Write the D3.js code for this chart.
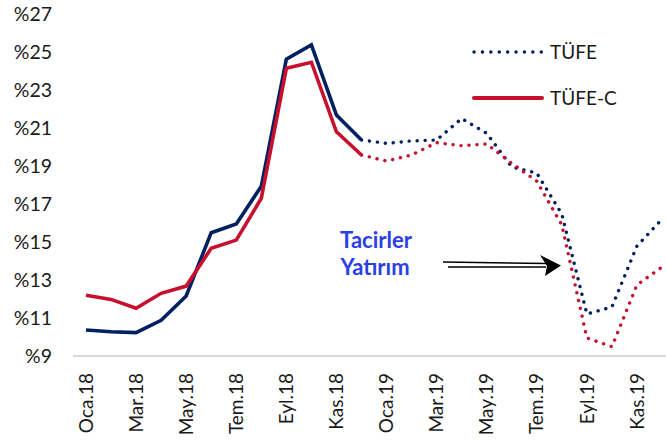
<!DOCTYPE html>
<html><head><meta charset="utf-8">
<script src="https://cdn.jsdelivr.net/npm/d3@7"></script>
<style>body{margin:0;background:#fff}svg{display:block}text{font-family:Lato,"Open Sans",sans-serif;fill:#1a1a1a}</style>
</head><body><svg id="c" width="666" height="444"></svg>
<script>
const months = ["Oca.18","Şub.18","Mar.18","Nis.18","May.18","Haz.18","Tem.18","Ağu.18","Eyl.18","Eki.18","Kas.18","Ara.18","Oca.19","Şub.19","Mar.19","Nis.19","May.19","Haz.19","Tem.19","Ağu.19","Eyl.19","Eki.19","Kas.19","Ara.19"];
const tufe  = [10.37,10.28,10.23,10.88,12.16,15.49,15.95,17.93,24.62,25.37,21.68,20.37,20.19,20.32,20.37,21.5,20.72,18.95,18.63,16.47,11.21,11.58,14.79,16.2];
const tufeC = [12.2,11.98,11.51,12.3,12.68,14.67,15.1,17.3,24.14,24.46,20.8,19.58,19.26,19.58,20.23,20.07,20.16,19.14,18.2,15.9,9.95,9.49,12.74,13.68];
const yTicks = [9,11,13,15,17,19,21,23,25,27];
const lastActual = 11; // Ara.18
const seriesNames = ["TÜFE","TÜFE-C"];
const colors = ["#002060","#c8102e"];

const svg = d3.select("#c");
const x = d3.scalePoint().domain(months).range([86,662]);
const y = d3.scaleLinear().domain([9,27]).range([356,14]);

// y labels
svg.append("g").selectAll("text").data(yTicks).join("text")
  .attr("x",52).attr("y",d=>y(d)).attr("dy","0.35em").attr("text-anchor","end")
  .attr("font-size",19.5).text(d=>"%"+d);

// x axis line
svg.append("line").attr("x1",73).attr("x2",666).attr("y1",y(9)).attr("y2",y(9))
  .attr("stroke","#d9d9d9").attr("stroke-width",2);

// x labels
svg.append("g").selectAll("text").data(months.filter((m,i)=>i%2===0)).join("text")
  .attr("transform",d=>`translate(${x(d)},373) rotate(-90)`)
  .attr("dy","0.35em").attr("text-anchor","end").attr("font-size",19).text(d=>d);

const line = d3.line().x(d=>x(d[0])).y(d=>y(d[1]));
[tufe,tufeC].forEach((vals,k)=>{
  const pts = months.map((m,i)=>[m,vals[i]]);
  svg.append("path").attr("d",line(pts.slice(0,lastActual+1)))
    .attr("fill","none").attr("stroke",colors[k]).attr("stroke-width",3.6).attr("stroke-linejoin","miter");
  svg.append("path").attr("d",line(pts.slice(lastActual)))
    .attr("fill","none").attr("stroke",colors[k]).attr("stroke-width",3.4)
    .attr("stroke-linecap","round").attr("stroke-dasharray","0.1,7.9");
});

// legend
const lg = svg.append("g");
lg.append("line").attr("x1",474).attr("x2",542).attr("y1",52).attr("y2",52)
  .attr("stroke",colors[0]).attr("stroke-width",3.4).attr("stroke-linecap","round").attr("stroke-dasharray","0.1,8.3");
lg.append("text").attr("x",550).attr("y",52).attr("dy","0.35em").attr("font-size",19).text(seriesNames[0]);
lg.append("line").attr("x1",474).attr("x2",542).attr("y1",98).attr("y2",98)
  .attr("stroke",colors[1]).attr("stroke-width",4).attr("stroke-linecap","round");
lg.append("text").attr("x",550).attr("y",98).attr("dy","0.35em").attr("font-size",19).text(seriesNames[1]);

// annotation
const an = svg.append("g");
an.append("text").attr("x",376).attr("y",248).attr("text-anchor","middle").attr("font-size",22)
  .attr("font-weight","bold").style("fill","#2b3fe6").text("Tacirler");
an.append("text").attr("x",375).attr("y",275).attr("text-anchor","middle").attr("font-size",22)
  .attr("font-weight","bold").style("fill","#2b3fe6").text("Yatırım");
an.append("line").attr("x1",443).attr("y1",262).attr("x2",546).attr("y2",263.5).attr("stroke","#000").attr("stroke-width",1.6);
an.append("line").attr("x1",448).attr("y1",267).attr("x2",546).attr("y2",267).attr("stroke","#000").attr("stroke-width",1.6);
an.append("path").attr("d","M540,255 L561,265.5 L545,276 L547,266 Z").attr("fill","#000");
</script></body></html>
